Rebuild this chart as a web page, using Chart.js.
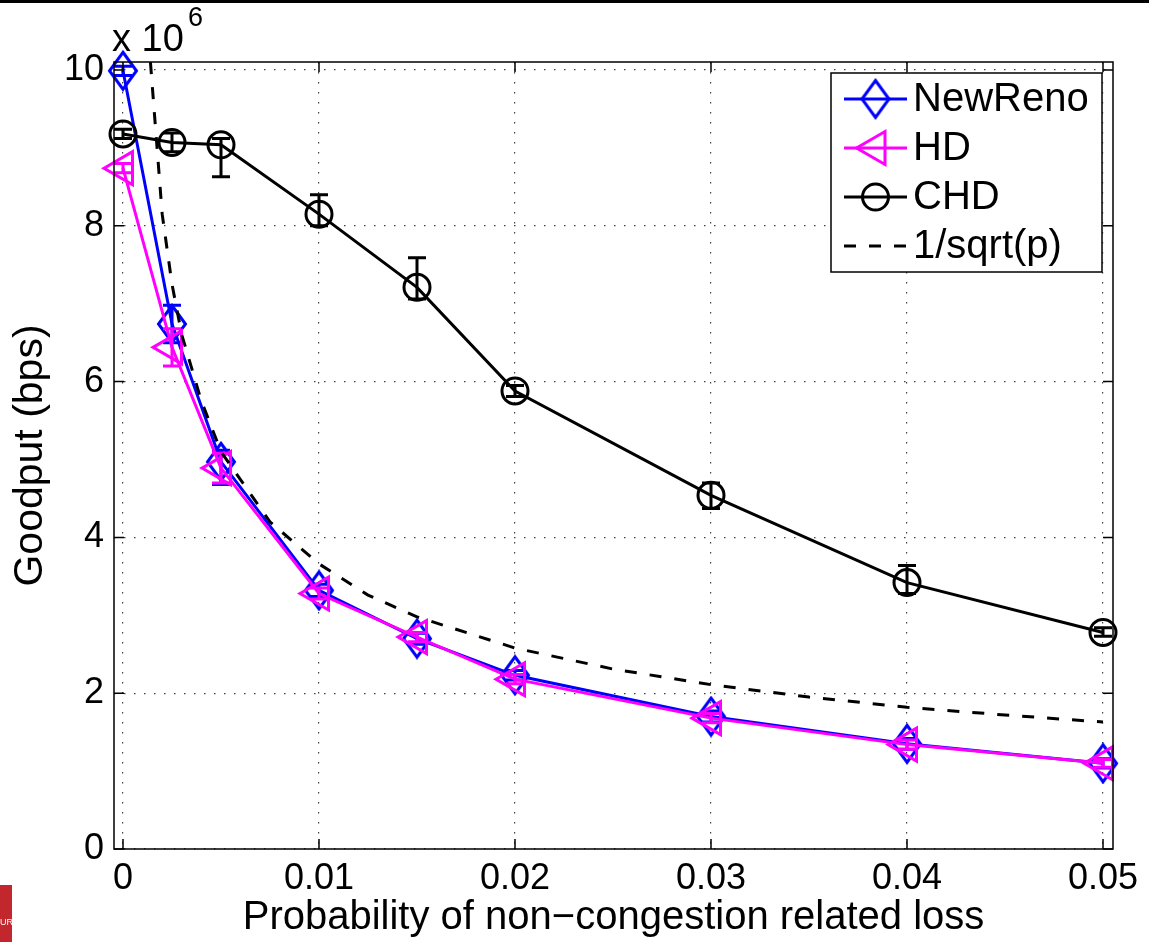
<!DOCTYPE html>
<html>
<head>
<meta charset="utf-8">
<title>Goodput vs non-congestion loss</title>
<script src="https://cdn.jsdelivr.net/npm/chart.js@4.4.1/dist/chart.umd.min.js"></script>
<style>
  html, body { margin: 0; padding: 0; background: #fff; }
  canvas { display: block; }
</style>
</head>
<body>
<canvas id="goodputChart" width="1149" height="942"></canvas>
<script>
// Loss probabilities where the simulations were run
const lossProb = [0, 0.0025, 0.005, 0.01, 0.015, 0.02, 0.03, 0.04, 0.05];

// Goodput, in units of 10^6 bps
const newReno     = [9.99, 6.74, 4.97, 3.32, 2.70, 2.23, 1.70, 1.35, 1.10];
const newRenoLow  = [9.93, 6.50, 4.68, 3.24, 2.63, 2.17, 1.63, 1.28, 1.04];
const newRenoHigh = [10.05, 6.98, 5.12, 3.40, 2.77, 2.29, 1.77, 1.42, 1.16];

const hd     = [8.74, 6.44, 4.89, 3.28, 2.72, 2.18, 1.68, 1.34, 1.10];
const hdLow  = [8.68, 6.20, 4.70, 3.21, 2.66, 2.12, 1.62, 1.28, 1.05];
const hdHigh = [8.80, 6.68, 5.08, 3.35, 2.78, 2.24, 1.74, 1.40, 1.15];

const chd     = [9.18, 9.07, 9.04, 8.15, 7.21, 5.88, 4.54, 3.42, 2.78];
const chdLow  = [9.12, 8.95, 8.63, 8.00, 7.06, 5.81, 4.37, 3.28, 2.73];
const chdHigh = [9.24, 9.19, 9.12, 8.40, 7.59, 5.95, 4.70, 3.64, 2.84];

// 1/sqrt(p) reference curve
const refProb = [0.0014, 0.002, 0.0025, 0.003, 0.004, 0.005, 0.0075, 0.01, 0.0125, 0.015, 0.02, 0.025, 0.03, 0.035, 0.04, 0.045, 0.05];
const refVals = [10.1, 8.15, 7.25, 6.6, 5.75, 5.1, 4.2, 3.66, 3.26, 2.98, 2.58, 2.31, 2.11, 1.95, 1.82, 1.72, 1.63];

// Axis ticks
const xTicks = [0, 0.01, 0.02, 0.03, 0.04, 0.05];
const xTickLabels = ['0', '0.01', '0.02', '0.03', '0.04', '0.05'];
const yTicks = [0, 2, 4, 6, 8, 10];
const yTickLabels = ['0', '2', '4', '6', '8', '10'];

const FONT = '"Liberation Sans", Arial, Helvetica, sans-serif';

function toPoints(xs, ys) {
    return xs.map((x, i) => ({ x: x, y: ys[i] }));
}

// Tall diamond marker, like the MATLAB one
function makeDiamond(color) {
    const c = document.createElement('canvas');
    c.width = 32;
    c.height = 42;
    const g = c.getContext('2d');
    g.strokeStyle = color;
    g.lineWidth = 3;
    g.lineJoin = 'miter';
    g.beginPath();
    g.moveTo(16, 2.5);
    g.lineTo(29.5, 21);
    g.lineTo(16, 39.5);
    g.lineTo(2.5, 21);
    g.closePath();
    g.stroke();
    return c;
}
const diamond = makeDiamond('#0000ff');

// Error bars, drawn right after their own dataset
const errorBars = {
    id: 'errorBars',
    afterDatasetDraw(chart, args) {
        const ds = chart.data.datasets[args.index];
        if (!ds.errLow) return;
        const ctx = chart.ctx;
        const xs = chart.scales.x, ys = chart.scales.y;
        ctx.save();
        ctx.strokeStyle = ds.borderColor;
        ctx.lineWidth = 3;
        ctx.setLineDash([]);
        ds.data.forEach((p, i) => {
            const px = xs.getPixelForValue(p.x);
            const lo = ys.getPixelForValue(ds.errLow[i]);
            const hi = ys.getPixelForValue(ds.errHigh[i]);
            ctx.beginPath();
            ctx.moveTo(px, lo); ctx.lineTo(px, hi);
            ctx.moveTo(px - 9, lo); ctx.lineTo(px + 9, lo);
            ctx.moveTo(px - 9, hi); ctx.lineTo(px + 9, hi);
            ctx.stroke();
        });
        ctx.restore();
    }
};

// Axes box, inner ticks, exponent label, boxed legend
const matlabFrame = {
    id: 'matlabFrame',
    beforeDraw(chart) {
        const ctx = chart.ctx;
        ctx.save();
        ctx.fillStyle = '#000';
        ctx.fillRect(0, 0, chart.width, 3);
        ctx.fillStyle = '#c1272d';
        ctx.fillRect(0, 885, 12, 57);
        ctx.fillStyle = '#fff';
        ctx.font = '9px ' + FONT;
        ctx.fillText('UR', 0, 925);
        ctx.restore();
    },
    afterDraw(chart) {
        const ctx = chart.ctx;
        const a = chart.chartArea;
        const xs = chart.scales.x, ys = chart.scales.y;
        ctx.save();
        ctx.strokeStyle = '#000';
        ctx.lineWidth = 1.5;
        ctx.strokeRect(a.left, a.top, a.right - a.left, a.bottom - a.top);
        ctx.beginPath();
        xTicks.forEach(v => {
            const px = xs.getPixelForValue(v);
            ctx.moveTo(px, a.bottom); ctx.lineTo(px, a.bottom - 10);
            ctx.moveTo(px, a.top); ctx.lineTo(px, a.top + 10);
        });
        yTicks.forEach(v => {
            const py = ys.getPixelForValue(v);
            ctx.moveTo(a.left, py); ctx.lineTo(a.left + 10, py);
            ctx.moveTo(a.right, py); ctx.lineTo(a.right - 10, py);
        });
        ctx.stroke();

        // x 10^6
        ctx.fillStyle = '#000';
        ctx.textBaseline = 'alphabetic';
        ctx.textAlign = 'left';
        ctx.font = '38px ' + FONT;
        ctx.fillText('x 10', 112, 51);
        ctx.font = '27px ' + FONT;
        ctx.fillText('6', 188, 26);

        // legend
        const box = { left: 831, top: 73, right: 1102, bottom: 272 };
        ctx.fillStyle = '#fff';
        ctx.fillRect(box.left, box.top, box.right - box.left, box.bottom - box.top);
        ctx.lineWidth = 1.5;
        ctx.strokeStyle = '#000';
        ctx.strokeRect(box.left, box.top, box.right - box.left, box.bottom - box.top);
        const rowY = [99, 148, 197, 246];
        chart.data.datasets.forEach((ds, i) => {
            const y = rowY[i];
            ctx.strokeStyle = ds.borderColor;
            ctx.lineWidth = 3;
            ctx.setLineDash(ds.borderDash || []);
            ctx.beginPath();
            ctx.moveTo(844, y); ctx.lineTo(907, y);
            ctx.stroke();
            ctx.setLineDash([]);
            if (ds.pointRadius > 0) {
                ctx.fillStyle = 'rgba(0,0,0,0)';
                Chart.helpers.drawPoint(ctx, {
                    pointStyle: ds.pointStyle,
                    rotation: ds.pointRotation || 0,
                    radius: ds.pointRadius,
                    borderWidth: 3
                }, 875.5, y);
            }
            ctx.fillStyle = '#000';
            ctx.font = '40px ' + FONT;
            ctx.textBaseline = 'middle';
            ctx.fillText(ds.label, 913, y + 1);
        });
        ctx.restore();
    }
};

const ctx = document.getElementById('goodputChart').getContext('2d');
const chart = new Chart(ctx, {
    type: 'line',
    data: {
        datasets: [
            {
                label: 'NewReno',
                data: toPoints(lossProb, newReno),
                errLow: newRenoLow,
                errHigh: newRenoHigh,
                borderColor: '#0000ff',
                backgroundColor: 'rgba(0,0,0,0)',
                borderWidth: 3,
                pointStyle: diamond,
                pointRadius: 14,
                pointBorderWidth: 3,
                pointBorderColor: '#0000ff',
                pointBackgroundColor: 'rgba(0,0,0,0)',
                clip: false,
                order: 4
            },
            {
                label: 'HD',
                data: toPoints(lossProb, hd),
                errLow: hdLow,
                errHigh: hdHigh,
                borderColor: '#ff00ff',
                backgroundColor: 'rgba(0,0,0,0)',
                borderWidth: 3,
                pointStyle: 'triangle',
                pointRotation: -90,
                pointRadius: 19,
                pointBorderWidth: 3,
                pointBorderColor: '#ff00ff',
                pointBackgroundColor: 'rgba(0,0,0,0)',
                clip: false,
                order: 3
            },
            {
                label: 'CHD',
                data: toPoints(lossProb, chd),
                errLow: chdLow,
                errHigh: chdHigh,
                borderColor: '#000000',
                backgroundColor: 'rgba(0,0,0,0)',
                borderWidth: 3,
                pointStyle: 'circle',
                pointRadius: 13,
                pointBorderWidth: 3,
                pointBorderColor: '#000000',
                pointBackgroundColor: 'rgba(0,0,0,0)',
                clip: false,
                order: 2
            },
            {
                label: '1/sqrt(p)',
                data: toPoints(refProb, refVals),
                borderColor: '#000000',
                borderWidth: 3,
                borderDash: [12, 13],
                pointRadius: 0,
                order: 1
            }
        ]
    },
    options: {
        responsive: false,
        animation: false,
        events: [],
        layout: { padding: { top: 62, right: 36, left: 0, bottom: 0 } },
        elements: { line: { tension: 0 } },
        plugins: {
            legend: { display: false },
            tooltip: { enabled: false }
        },
        scales: {
            x: {
                type: 'linear',
                min: -0.000459,
                max: 0.05051,
                afterFit: s => { s.height = 93; },
                afterBuildTicks: s => { s.ticks = xTicks.map(v => ({ value: v })); },
                ticks: {
                    callback: (v, i) => xTickLabels[i],
                    color: '#000',
                    font: { family: FONT, size: 36 },
                    padding: 8,
                    maxRotation: 0,
                    autoSkip: false
                },
                grid: {
                    color: 'rgba(0,0,0,0.75)',
                    lineWidth: 1.2,
                    drawTicks: false
                },
                border: { display: false, dash: [1.5, 8.5] },
                title: {
                    display: true,
                    text: 'Probability of non\u2212congestion related loss',
                    color: '#000',
                    font: { family: FONT, size: 40 },
                    padding: { top: 0, bottom: 0 }
                }
            },
            y: {
                type: 'linear',
                min: 0,
                max: 10.103,
                afterFit: s => { s.width = 114; },
                afterBuildTicks: s => { s.ticks = yTicks.map(v => ({ value: v })); },
                ticks: {
                    callback: (v, i) => yTickLabels[i],
                    color: '#000',
                    font: { family: FONT, size: 36 },
                    padding: 10
                },
                grid: {
                    color: 'rgba(0,0,0,0.75)',
                    lineWidth: 1.2,
                    drawTicks: false
                },
                border: { display: false, dash: [1.5, 8.5] },
                title: {
                    display: true,
                    text: 'Goodput (bps)',
                    color: '#000',
                    font: { family: FONT, size: 41 },
                    padding: { top: 6, bottom: 0 }
                }
            }
        }
    },
    plugins: [errorBars, matlabFrame]
});
</script>
</body>
</html>
